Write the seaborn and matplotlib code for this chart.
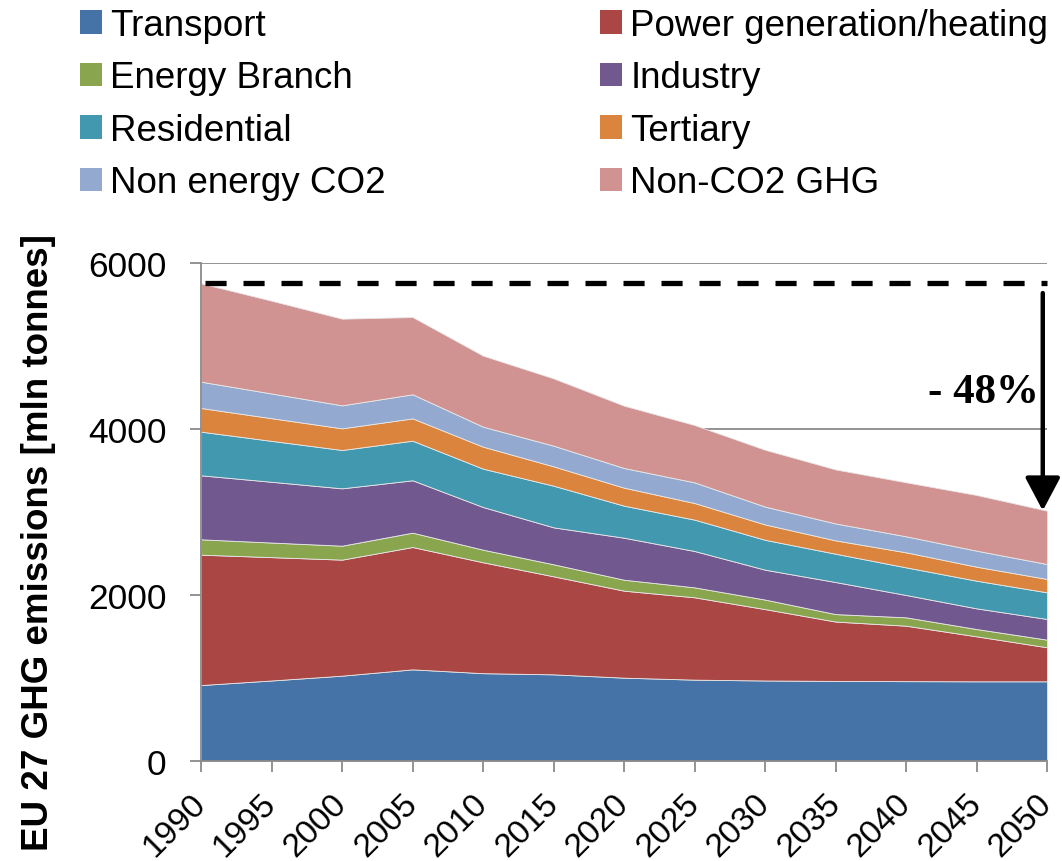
import numpy as np
import pandas as pd
import matplotlib
matplotlib.use("Agg")
import matplotlib.pyplot as plt
import seaborn as sns
from matplotlib.patches import Patch

years = [1990, 1995, 2000, 2005, 2010, 2015, 2020, 2025, 2030, 2035, 2040, 2045, 2050]
transport   = [915, 970, 1028, 1104, 1058, 1044, 1004, 980, 970, 965, 962, 960, 960]
power       = [1571, 1486, 1398, 1474, 1336, 1181, 1048, 992, 860, 715, 668, 542, 410]
energy      = [185, 176, 168, 173, 152, 145, 132, 120, 115, 90, 101, 88, 92]
industry    = [771, 732, 691, 631, 514, 445, 506, 438, 360, 386, 269, 249, 249]
residential = [526, 493, 462, 477, 462, 502, 386, 378, 360, 341, 333, 333, 321]
tertiary    = [285, 273, 261, 269, 265, 233, 217, 200, 185, 161, 181, 169, 161]
non_energy  = [317, 298, 277, 290, 241, 249, 237, 249, 215, 204, 193, 193, 180]
non_co2     = [1185, 1118, 1044, 931, 856, 811, 751, 691, 685, 651, 651, 671, 643]

labels = ["Transport", "Power generation/heating", "Energy Branch", "Industry",
          "Residential", "Tertiary", "Non energy CO2", "Non-CO2 GHG"]
colors = ["#4572A7", "#AA4643", "#89A54E", "#71588F",
          "#4198AF", "#DB843D", "#93A9CF", "#D19392"]
reduction_label = "- 48%"

series = [transport, power, energy, industry, residential, tertiary, non_energy, non_co2]
df = pd.DataFrame({lab: s for lab, s in zip(labels, series)}, index=years)

sns.set_theme(style="white")
plt.rcParams['font.family'] = ['Liberation Sans', 'DejaVu Sans']
plt.rcParams['text.color'] = 'black'
plt.rcParams['axes.labelcolor'] = 'black'

fig = plt.figure(figsize=(10.62, 8.62), dpi=100)
ax = fig.add_axes([201/1062, 1 - 762/862, (1047-201)/1062, (762-264)/862])

ax.stackplot(df.index, [df[c].values for c in labels], colors=colors,
             edgecolor="#e8e8e8", linewidth=0.6, zorder=2)

grid_c = "#8a8a8a"
ax.set_xlim(1990, 2050)
ax.set_ylim(0, 6000)
ax.set_yticks([0, 2000, 4000, 6000])
ax.set_xticks(years)
for yv in [2000, 4000, 6000]:
    ax.axhline(yv, color=grid_c, lw=1.3, zorder=1)
for side in ["top", "right"]:
    ax.spines[side].set_visible(False)
for side in ["left", "bottom"]:
    ax.spines[side].set_color(grid_c)
    ax.spines[side].set_linewidth(1.3)
    ax.spines[side].set_zorder(3)
ax.tick_params(axis="both", direction="out", length=8, width=1.3, color=grid_c,
               labelcolor="black", left=True, bottom=True)
ax.tick_params(axis="y", labelsize=25.5, pad=17)
ax.tick_params(axis="x", labelsize=24, pad=19)
ax.set_yticklabels(["0", "2000", "4000", "6000"])
ax.set_xticklabels([str(y) for y in years], rotation=45, ha="right", va="center",
                   rotation_mode="anchor")

ax.set_ylabel("EU 27 GHG emissions [mln tonnes]", fontsize=26.5, fontweight="bold")
ax.yaxis.set_label_coords(-0.171, 0.44)

# reference level and reduction arrow
total = df.sum(axis=1)
start, end = total.iloc[0], total.iloc[-1]
ax.plot([1990.3, 2050], [start, start], color="black", lw=3.8,
        dashes=(4.0, 3.2), zorder=4, clip_on=False)
ax.annotate("", xy=(2049.7, end), xytext=(2049.7, start),
            arrowprops=dict(arrowstyle="-|>,head_length=1.7,head_width=0.9",
                            mutation_scale=12, color="black", lw=3.2,
                            shrinkA=7, shrinkB=0),
            zorder=5)
ax.text(2049.45, 4440, reduction_label, ha="right", va="center", fontsize=31,
        fontweight="bold", family=["Liberation Serif", "DejaVu Serif"])

handles = [Patch(facecolor=c, edgecolor="none") for c in colors]
order = [0, 2, 4, 6, 1, 3, 5, 7]
fig.legend([handles[i] for i in order], [labels[i] for i in order],
           loc="upper left", bbox_to_anchor=(80/1062, 1 - 9/862), ncol=2,
           frameon=False, fontsize=26.5, handlelength=0.6, handleheight=0.6,
           handletextpad=0.22, columnspacing=5.82, labelspacing=0.475,
           borderpad=0, borderaxespad=0)

fig.savefig("out.png", dpi=100)
